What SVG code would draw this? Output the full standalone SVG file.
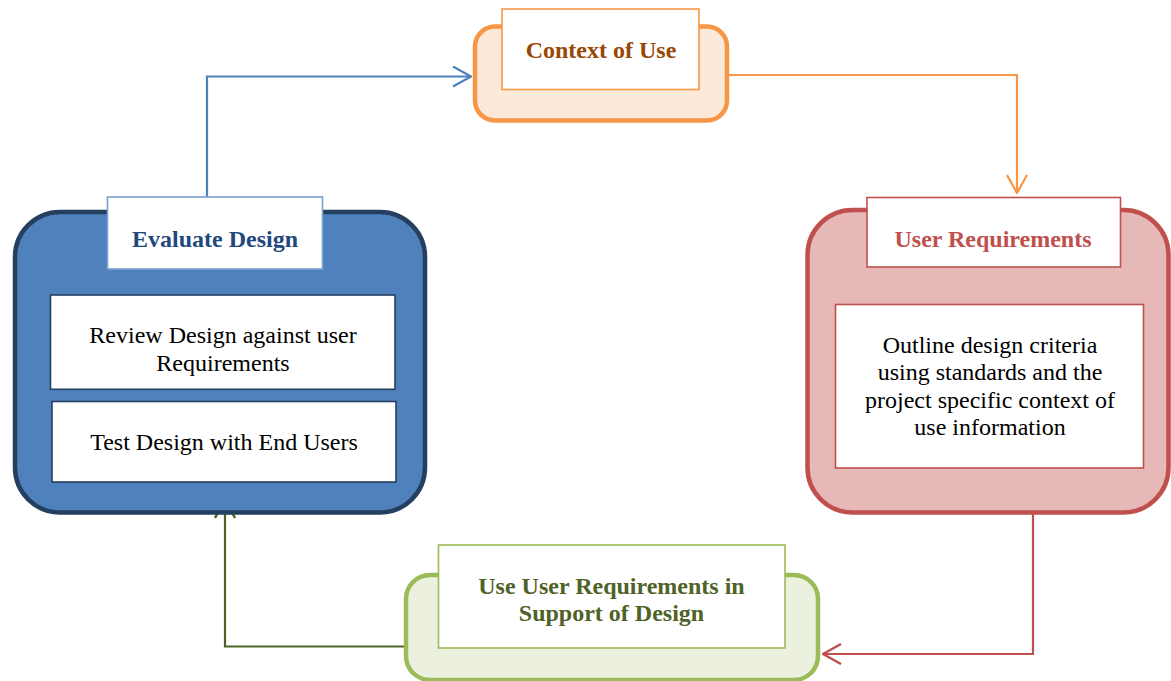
<svg xmlns="http://www.w3.org/2000/svg" width="1171" height="681" viewBox="0 0 1171 681">
  <style>
    text { font-family: "Liberation Serif", "Times New Roman", serif; font-size: 24px; text-anchor: middle; }
    .title { font-weight: bold; }
    .body { fill: #000000; }
    .conn { fill: none; stroke-width: 2.2; stroke-linejoin: miter; }
    .head { fill: #FFFFFF; stroke-width: 1.6; }
    .outer { stroke-width: 4.5; }
  </style>
  <defs>
    <marker id="arrowBlue" viewBox="0 0 20 22" refX="19" refY="11" markerWidth="20" markerHeight="22" markerUnits="userSpaceOnUse" orient="auto">
      <path d="M1,1 L19,11 L1,21" fill="none" stroke="#4F81BD" stroke-width="2.2"/>
    </marker>
    <marker id="arrowOrange" viewBox="0 0 20 22" refX="19" refY="11" markerWidth="20" markerHeight="22" markerUnits="userSpaceOnUse" orient="auto">
      <path d="M1,1 L19,11 L1,21" fill="none" stroke="#F79646" stroke-width="2.2"/>
    </marker>
    <marker id="arrowRed" viewBox="0 0 20 22" refX="19" refY="11" markerWidth="20" markerHeight="22" markerUnits="userSpaceOnUse" orient="auto">
      <path d="M1,1 L19,11 L1,21" fill="none" stroke="#C0504D" stroke-width="2.4"/>
    </marker>
    <marker id="arrowGreen" viewBox="0 0 20 22" refX="19" refY="11" markerWidth="20" markerHeight="22" markerUnits="userSpaceOnUse" orient="auto">
      <path d="M1,1 L19,11 L1,21" fill="none" stroke="#4F6228" stroke-width="2.4"/>
    </marker>
  </defs>

  <rect width="1171" height="681" fill="#FFFFFF"/>

  <!-- connectors between the four stages -->
  <g id="connectors">
    <path class="conn" d="M207,198 L207,76.5 L471,76.5" stroke="#4F81BD" marker-end="url(#arrowBlue)"/>
    <path class="conn" d="M727,75 L1017,75 L1017,193" stroke="#F79646" marker-end="url(#arrowOrange)"/>
    <path class="conn" d="M1033,514 L1033,654 L823,654" stroke="#C0504D" stroke-width="2.6" marker-end="url(#arrowRed)"/>
    <path class="conn" d="M406,646.5 L225,646.5 L225,500" stroke="#4F6228" stroke-width="2.6" marker-end="url(#arrowGreen)"/>
  </g>

  <!-- Context of Use -->
  <g id="context-of-use">
    <rect class="outer" x="475" y="26.5" width="252" height="94" rx="20" fill="#FDE9D9" stroke="#F79646"/>
    <rect class="head" x="502" y="9" width="197" height="80.5" stroke="#F79646"/>
    <text class="title" x="601" y="58" fill="#984807">Context of Use</text>
  </g>

  <!-- User Requirements -->
  <g id="user-requirements">
    <rect class="outer" x="807.5" y="210" width="361" height="302.5" rx="45" fill="#E6B9B8" stroke="#C0504D"/>
    <rect class="head" x="867" y="197.5" width="253.5" height="69.5" stroke="#C0504D"/>
    <text class="title" x="993" y="247.3" fill="#C0504D">User Requirements</text>
    <rect class="head" x="835.5" y="304.5" width="308" height="163.5" stroke="#C0504D"/>
    <text class="body" x="990" y="352.7">Outline design criteria</text>
    <text class="body" x="990" y="380">using standards and the</text>
    <text class="body" x="990" y="407.7">project specific context of</text>
    <text class="body" x="990" y="435">use information</text>
  </g>

  <!-- Use User Requirements in Support of Design -->
  <g id="support-of-design">
    <rect class="outer" x="406" y="575" width="412" height="105" rx="24" fill="#EBF1DE" stroke="#9BBB59"/>
    <rect class="head" x="438.5" y="545" width="346.5" height="103" stroke="#9BBB59"/>
    <text class="title" x="611.5" y="594" fill="#4F6228">Use User Requirements in</text>
    <text class="title" x="611.5" y="621" fill="#4F6228">Support of Design</text>
  </g>

  <!-- Evaluate Design -->
  <g id="evaluate-design">
    <rect class="outer" x="15" y="212" width="410" height="300.5" rx="45" fill="#4F81BD" stroke="#243F60"/>
    <rect class="head" x="107.5" y="197" width="215" height="72" stroke="#7BA0CD"/>
    <text class="title" x="215" y="246.7" fill="#1F497D">Evaluate Design</text>
    <rect class="head" x="50.5" y="295" width="344.5" height="94.3" stroke="#243F60"/>
    <text class="body" x="223" y="342.7">Review Design against user</text>
    <text class="body" x="223" y="370.7">Requirements</text>
    <rect class="head" x="52" y="401.5" width="344" height="80.5" stroke="#243F60"/>
    <text class="body" x="224" y="450">Test Design with End Users</text>
  </g>
</svg>
